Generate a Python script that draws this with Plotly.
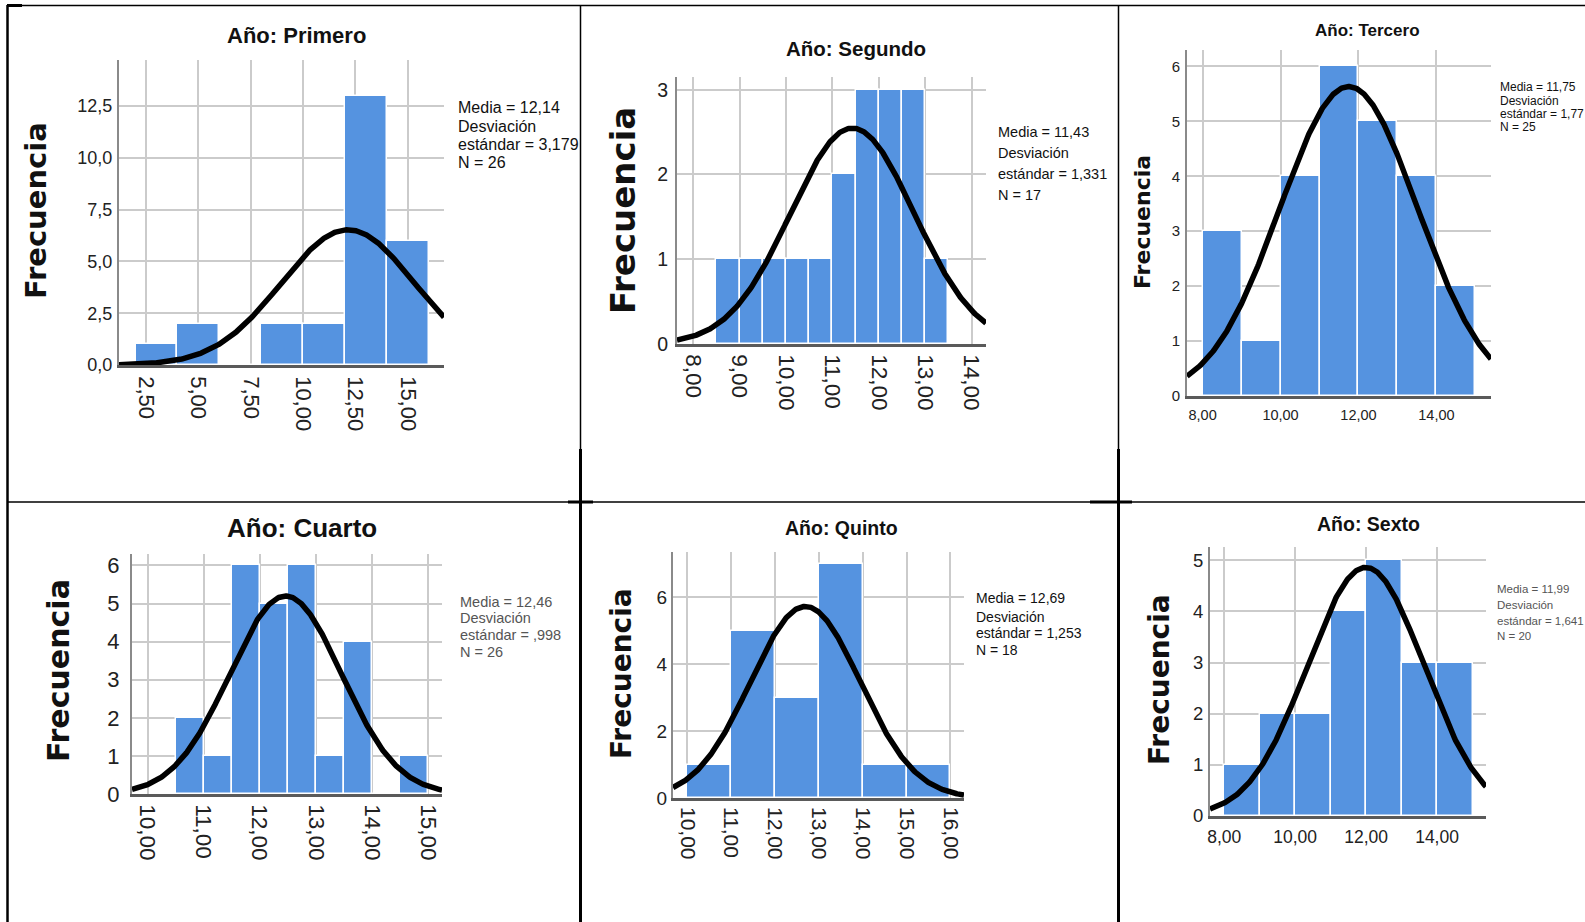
import numpy as np
import plotly.graph_objects as go

W, H = 1585, 922

# ---------------- data ----------------
years = ["Primero", "Segundo", "Tercero", "Cuarto", "Quinto", "Sexto"]

primero_bins = [2, 4, 6, 8, 10, 12, 14]
primero_counts = [1, 2, 0, 2, 2, 13, 6]
segundo_bins = [8.5, 9.0, 9.5, 10.0, 10.5, 11.0, 11.5, 12.0, 12.5, 13.0]
segundo_counts = [1, 1, 1, 1, 1, 2, 3, 3, 3, 1]
tercero_bins = [8, 9, 10, 11, 12, 13, 14]
tercero_counts = [3, 1, 4, 6, 5, 4, 2]
cuarto_bins = [10.5, 11.0, 11.5, 12.0, 12.5, 13.0, 13.5, 14.0, 14.5]
cuarto_counts = [2, 1, 6, 5, 6, 1, 4, 0, 1]
quinto_bins = [10, 11, 12, 13, 14, 15]
quinto_counts = [1, 5, 3, 7, 1, 1]
sexto_bins = [8, 9, 10, 11, 12, 13, 14]
sexto_counts = [1, 2, 2, 4, 5, 3, 3]
bin_widths = [2, 0.5, 1, 0.5, 1, 1]

means = [12.14, 11.43, 11.75, 12.46, 12.69, 11.99]
std_devs = [3.179, 1.331, 1.77, 0.998, 1.253, 1.641]
n_values = [26, 17, 25, 26, 18, 20]

media_labels = ["Media = 12,14", "Media = 11,43", "Media = 11,75",
                "Media = 12,46", "Media = 12,69", "Media = 11,99"]
desv_labels = ["estándar = 3,179", "estándar = 1,331", "estándar = 1,77",
               "estándar = ,998", "estándar = 1,253", "estándar = 1,641"]
n_labels = ["N = 26", "N = 17", "N = 25", "N = 26", "N = 18", "N = 20"]

primero_xticks = [2.5, 5, 7.5, 10, 12.5, 15]
primero_xlabels = ["2,50", "5,00", "7,50", "10,00", "12,50", "15,00"]
segundo_xticks = [8, 9, 10, 11, 12, 13, 14]
segundo_xlabels = ["8,00", "9,00", "10,00", "11,00", "12,00", "13,00", "14,00"]
tercero_xticks = [8, 10, 12, 14]
tercero_xlabels = ["8,00", "10,00", "12,00", "14,00"]
cuarto_xticks = [10, 11, 12, 13, 14, 15]
cuarto_xlabels = ["10,00", "11,00", "12,00", "13,00", "14,00", "15,00"]
quinto_xticks = [10, 11, 12, 13, 14, 15, 16]
quinto_xlabels = ["10,00", "11,00", "12,00", "13,00", "14,00", "15,00", "16,00"]
sexto_xticks = [8, 10, 12, 14]
sexto_xlabels = ["8,00", "10,00", "12,00", "14,00"]

primero_yticks = [0, 2.5, 5, 7.5, 10, 12.5]
primero_ylabels = ["0,0", "2,5", "5,0", "7,5", "10,0", "12,5"]
segundo_yticks = [0, 1, 2, 3]
tercero_yticks = [0, 1, 2, 3, 4, 5, 6]
cuarto_yticks = [0, 1, 2, 3, 4, 5, 6]
quinto_yticks = [0, 2, 4, 6]
sexto_yticks = [0, 1, 2, 3, 4, 5]

all_bins = [primero_bins, segundo_bins, tercero_bins, cuarto_bins, quinto_bins, sexto_bins]
all_counts = [primero_counts, segundo_counts, tercero_counts, cuarto_counts, quinto_counts, sexto_counts]
all_xticks = [primero_xticks, segundo_xticks, tercero_xticks, cuarto_xticks, quinto_xticks, sexto_xticks]
all_xlabels = [primero_xlabels, segundo_xlabels, tercero_xlabels, cuarto_xlabels, quinto_xlabels, sexto_xlabels]
all_yticks = [primero_yticks, segundo_yticks, tercero_yticks, cuarto_yticks, quinto_yticks, sexto_yticks]
all_ylabels = [primero_ylabels, [str(v) for v in segundo_yticks], [str(v) for v in tercero_yticks],
               [str(v) for v in cuarto_yticks], [str(v) for v in quinto_yticks], [str(v) for v in sexto_yticks]]

# ---------------- layout / style (pixels) ----------------
panels = [
    dict(box=(119, 444, 60, 365), xr=(1.21, 16.73), yr=(0, 14.72), rot=True,
         xtick=22, ytick=18, title=(296, 36, 22), freq=(36, 211, 29),
         stats=(457, [107, 126, 145, 162], 16, "#111"), xstand=4, ystand=1),
    dict(box=(677, 986, 77, 344), xr=(7.65, 14.31), yr=(0, 3.15), rot=True,
         xtick=22.5, ytick=19.5, title=(856, 49, 20.5), freq=(623, 211, 34),
         stats=(997, [132, 153, 174, 195], 14.5, "#111"), xstand=3, ystand=3),
    dict(box=(1187, 1491, 50, 396), xr=(7.6, 15.4), yr=(0, 6.3), rot=False,
         xtick=14.5, ytick=15, title=(1367, 31, 17), freq=(1143, 222, 22),
         stats=(1499, [87, 101, 114, 127], 12, "#111"), xstand=4, ystand=2),
    dict(box=(132, 442, 554, 794), xr=(9.72, 15.25), yr=(0, 6.3), rot=True,
         xtick=22.5, ytick=22, title=(302, 528, 26), freq=(58, 671, 30),
         stats=(459, [602, 618, 635, 652], 14.5, "#555"), xstand=3, ystand=6),
    dict(box=(673, 964, 552, 798), xr=(9.67, 16.31), yr=(0, 7.36), rot=True,
         xtick=21, ytick=19, title=(841, 528, 19.5), freq=(621, 674, 28),
         stats=(975, [598, 617, 633, 650], 14, "#111"), xstand=2, ystand=0),
    dict(box=(1210, 1486, 547, 816), xr=(7.6, 15.38), yr=(0, 5.26), rot=False,
         xtick=17.5, ytick=18.5, title=(1368, 524, 19.5), freq=(1159, 680, 28),
         stats=(1496, [589, 605, 621, 636], 11.5, "#555"), xstand=3, ystand=1),
]

SANS = "Liberation Sans, Arial, sans-serif"
BAR_COLOR = "#5593E0"
GRID = "#CBCBCB"

fig = go.Figure()
annotations = []
shapes = []


def px_x(v):
    return v / W


def px_y(v):
    return 1 - v / H


for i, p in enumerate(panels):
    k = "" if i == 0 else str(i + 1)
    xa, ya = "x" + k, "y" + k
    x0, x1, yt, yb = p["box"]
    w = bin_widths[i]
    bins = all_bins[i]
    counts = all_counts[i]
    fig.add_trace(go.Bar(
        x=[b + w / 2 for b in bins], y=counts, width=w,
        marker=dict(color=BAR_COLOR, line=dict(color="white", width=1.5)),
        xaxis=xa, yaxis=ya, showlegend=False, hoverinfo="skip"))
    xs = np.linspace(p["xr"][0], p["xr"][1], 400)
    ys = n_values[i] * w * np.exp(-0.5 * ((xs - means[i]) / std_devs[i]) ** 2) / (std_devs[i] * np.sqrt(2 * np.pi))
    fig.add_trace(go.Scatter(x=xs, y=ys, mode="lines", line=dict(color="black", width=5.5),
                             xaxis=xa, yaxis=ya, showlegend=False, hoverinfo="skip"))

    xkey = "xaxis" + k
    ykey = "yaxis" + k
    fig.update_layout(**{
        xkey: dict(domain=[px_x(x0), px_x(x1)], anchor=ya, range=list(p["xr"]),
                   tickmode="array", tickvals=all_xticks[i], ticktext=all_xlabels[i],
                   tickangle=90 if p["rot"] else 0, automargin=False,
                   showgrid=True, gridcolor=GRID, gridwidth=1.5,
                   showline=True, linecolor="#5a5a5a", linewidth=2.5,
                   zeroline=False, ticks="", ticklabelstandoff=p["xstand"],
                   tickfont=dict(family=SANS, size=p["xtick"], color="#222"),
                   fixedrange=True),
        ykey: dict(domain=[px_y(yb), px_y(yt)], anchor=xa, range=list(p["yr"]),
                   tickmode="array", tickvals=all_yticks[i], ticktext=all_ylabels[i],
                   automargin=False,
                   showgrid=True, gridcolor=GRID, gridwidth=1.5,
                   showline=True, linecolor="#8a8a8a", linewidth=2,
                   zeroline=False, ticks="", ticklabelstandoff=p["ystand"],
                   tickfont=dict(family=SANS, size=p["ytick"], color="#222"),
                   fixedrange=True),
    })

    tx, ty, ts = p["title"]
    annotations.append(dict(
        text="Año: " + years[i], x=px_x(tx), y=px_y(ty), xref="paper", yref="paper",
        xanchor="center", yanchor="middle", showarrow=False,
        font=dict(family=SANS, size=ts, color="#111", weight="bold")))
    fx, fy, fs = p["freq"]
    annotations.append(dict(
        text="Frecuencia", x=px_x(fx), y=px_y(fy), xref="paper", yref="paper",
        xanchor="center", yanchor="middle", showarrow=False, textangle=-90,
        font=dict(family="DejaVu Sans, sans-serif", size=fs, color="#111", weight="bold")))
    sx, sys_, ss, scol = p["stats"]
    lines = [media_labels[i], "Desviación", desv_labels[i], n_labels[i]]
    for line_txt, ly in zip(lines, sys_):
        annotations.append(dict(
            text=line_txt, x=px_x(sx), y=px_y(ly), xref="paper", yref="paper",
            xanchor="left", yanchor="middle", showarrow=False, borderpad=0,
            font=dict(family=SANS, size=ss, color=scol)))


def line(xa_, ya_, xb_, yb_, wdt):
    shapes.append(dict(type="line", xref="paper", yref="paper",
                       x0=px_x(xa_), y0=px_y(ya_), x1=px_x(xb_), y1=px_y(yb_),
                       line=dict(color="black", width=wdt)))


# table borders
line(7, 5.5, 1585, 5.5, 1.5)
line(7, 5.5, 22, 5.5, 3)
line(7.5, 5, 7.5, 922, 2.5)
for cx in (580.5, 1118.5):
    line(cx, 5, cx, 449, 1.5)
    line(cx, 449, cx, 922, 3)
line(7, 502, 1585, 502, 1.5)
line(568, 502, 593, 502, 3)
line(1090, 502, 1132, 502, 3)

fig.update_layout(
    width=W, height=H, autosize=False,
    margin=dict(l=0, r=0, t=0, b=0, pad=0, autoexpand=False),
    paper_bgcolor="white", plot_bgcolor="white",
    bargap=0, annotations=annotations, shapes=shapes, showlegend=False,
)

fig.write_html("out.html", include_plotlyjs=True,
               config={"displayModeBar": False},
               post_script="document.body.style.margin='0';")
